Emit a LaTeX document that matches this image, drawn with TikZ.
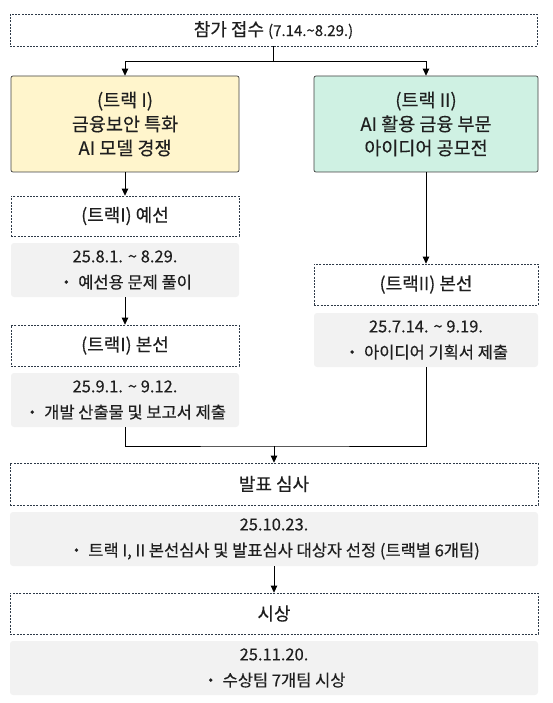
\documentclass[tikz,border=0pt]{standalone}
\usepackage{fontspec}
\setmainfont{Noto Sans CJK KR}[FakeBold=0.25]
\usetikzlibrary{arrows.meta,calc}
\definecolor{dashc}{HTML}{2E3A48}
\definecolor{yel}{HTML}{FFF5CC}
\definecolor{mint}{HTML}{CFF1E3}
\definecolor{grayf}{HTML}{F2F2F2}
\definecolor{txt}{HTML}{1F1F1F}
\tikzset{
  x=1pt,y=-1pt,
  dbox/.style={draw=dashc,line width=0.7pt,dash pattern=on 2pt off 1.3pt,fill=white,inner sep=0pt,text=txt,font=\fontsize{18}{20}\selectfont},
  cbox/.style={draw=black!75,line width=0.7pt,rounded corners=2pt,inner sep=0pt,text=txt,align=center,font=\fontsize{18.5}{24}\selectfont},
  gbox/.style={fill=grayf,rounded corners=3pt,inner sep=0pt,text=txt,align=center,font=\fontsize{16.5}{26}\selectfont},
  conn/.style={draw=black,line width=0.8pt},
  arr/.style={conn,-{Triangle[length=7pt,width=6.5pt]}}
}
\begin{document}
\begin{tikzpicture}
\useasboundingbox (0,0) rectangle (552,703);
\node[dbox,minimum width=527,minimum height=32] (top) at (273.5,30) {참가 접수 {\fontsize{15}{17}\selectfont(7.14.\textasciitilde 8.29.)}};
\node[cbox,fill=yel,minimum width=228,minimum height=96] (t1) at (125,124) {(트랙 I)\\금융보안 특화\\AI 모델 경쟁};
\node[cbox,fill=mint,minimum width=224,minimum height=96] (t2) at (426,124) {(트랙 II)\\AI 활용 금융 부문\\아이디어 공모전};
\node[dbox,minimum width=228,minimum height=40] (p1) at (125,216) {(트랙I) 예선};
\node[gbox,minimum width=228,minimum height=54] (g1) at (125,270) {25.8.1. \textasciitilde{} 8.29.\\・ 예선용 문제 풀이};
\node[dbox,minimum width=228,minimum height=41] (m1) at (125,345.5) {(트랙I) 본선};
\node[gbox,minimum width=228,minimum height=54] (g2) at (125,400) {25.9.1. \textasciitilde{} 9.12.\\・ 개발 산출물 및 보고서 제출};
\node[dbox,minimum width=224,minimum height=41] (m2) at (426,284.5) {(트랙II) 본선};
\node[gbox,minimum width=224,minimum height=54] (g3) at (426,340) {25.7.14. \textasciitilde{} 9.19.\\・ 아이디어 기획서 제출};
\node[dbox,minimum width=528,minimum height=42] (pr) at (274,484) {발표 심사};
\node[gbox,minimum width=528,minimum height=54] (g4) at (274,539) {25.10.23.\\・ 트랙 I, II 본선심사 및 발표심사 대상자 선정 (트랙별 6개팀)};
\node[dbox,minimum width=528,minimum height=41] (aw) at (274,613.5) {시상};
\node[gbox,minimum width=528,minimum height=54] (g5) at (274,668) {25.11.20.\\・ 수상팀 7개팀 시상};
\coordinate (split) at (273.5,61);
\coordinate (merge) at (274,446);
\draw[conn] (top.south) -- (split);
\draw[arr] (split) -| (t1.north);
\draw[arr] (split) -| (t2.north);
\draw[arr] (t1.south) -- (p1.north);
\draw[arr] (g1.south) -- (m1.north);
\draw[arr] (t2.south) -- (m2.north);
\draw[conn] (g2.south) |- (merge) -| (g3.south);
\draw[arr] (merge) -- (pr.north);
\draw[arr] (g4.south) -- (aw.north);
\end{tikzpicture}
\end{document}
